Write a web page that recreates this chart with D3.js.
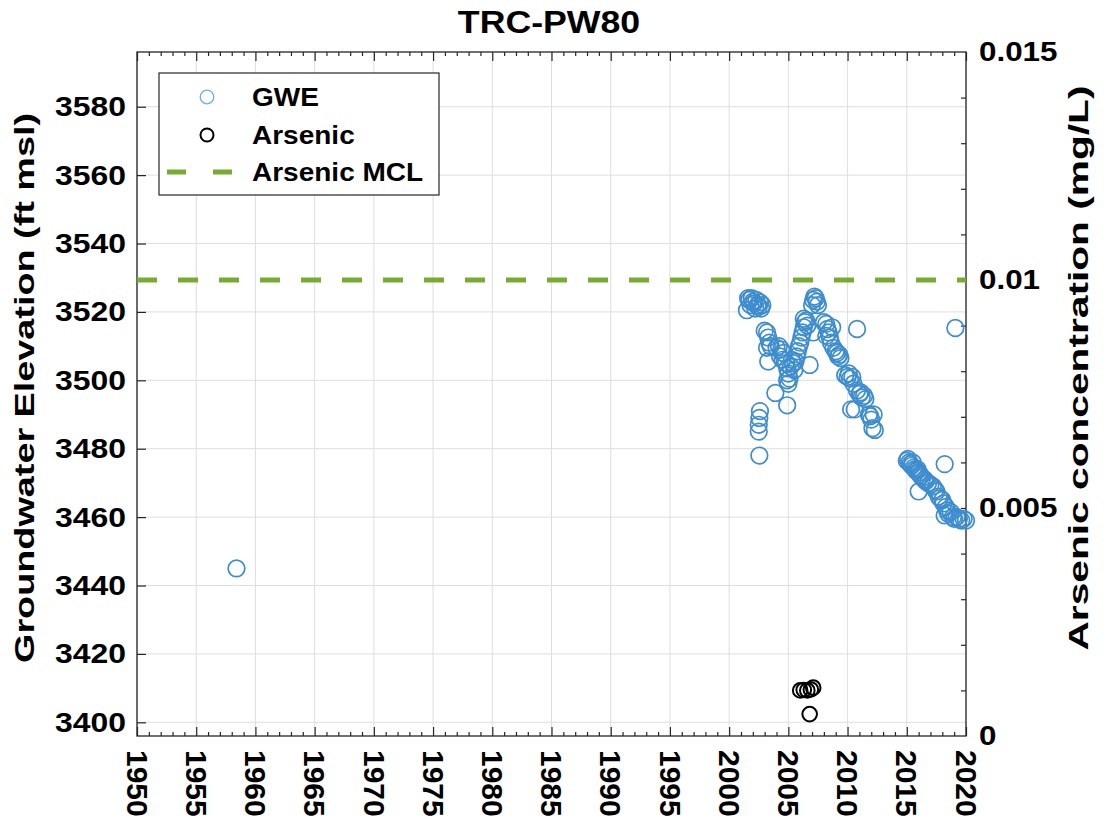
<!DOCTYPE html>
<html>
<head>
<meta charset="utf-8">
<script src="https://cdn.jsdelivr.net/npm/d3@7"></script>
<style>
  body { margin: 0; background: #fff; }
  text { font-family: "Liberation Sans", Arial, sans-serif; font-weight: bold; fill: #000; }
</style>
</head>
<body>
<script>
// well TRC-PW80 : groundwater elevation + arsenic samples

var gweYears = [
    1958.4,
    2001.5, 2001.6, 2001.7, 2001.8, 2001.9, 2002.0, 2002.1, 2002.2, 2002.3, 2002.4, 2002.5, 2002.6, 2002.7, 2002.8,
    2002.6, 2002.55, 2002.5, 2002.5, 2002.55,
    2003.0, 2003.2, 2003.3, 2003.4, 2003.2, 2003.5, 2003.3, 2003.9,
    2004.0, 2004.2, 2004.4, 2004.6, 2004.3, 2004.5, 2004.8, 2004.9, 2005.0, 2005.1, 2004.9, 2005.0, 2005.2, 2005.3, 2005.4, 2005.5, 2004.9,
    2005.6, 2005.7, 2005.8, 2005.9, 2006.0, 2006.1, 2006.2, 2006.3, 2006.4, 2006.5, 2006.6, 2006.3, 2006.8,
    2007.0, 2007.1, 2007.2, 2007.3, 2007.4, 2007.5, 2007.1,
    2008.0, 2008.2, 2008.3, 2008.4, 2008.5, 2008.6, 2008.2, 2008.8, 2009.0, 2009.1, 2009.2, 2009.3, 2009.4, 2008.7,
    2009.8, 2010.0, 2010.1, 2010.2, 2010.4, 2010.5, 2010.3, 2010.6, 2010.8,
    2010.8, 2011.0, 2011.1, 2011.2, 2011.4, 2011.5,
    2011.8, 2011.9, 2012.0, 2012.2, 2012.1, 2012.3,
    2015.0, 2015.1, 2015.2, 2015.3, 2015.4, 2015.5, 2015.6, 2015.7, 2015.8, 2015.9, 2016.0, 2016.1, 2016.2, 2016.3, 2016.0,
    2016.5, 2016.6, 2016.8, 2017.0, 2017.2, 2017.4, 2017.5, 2017.7, 2017.8, 2018.0, 2018.1, 2018.2, 2018.3, 2018.2,
    2018.4, 2018.5, 2018.7, 2018.9, 2019.0, 2019.1, 2019.2, 2019.4, 2019.6, 2019.8, 2020.0
];
var gweValues = [
    3445,
    3520.5, 3524, 3523.5, 3522, 3524, 3523, 3522.5, 3521, 3523.5, 3522, 3521.5, 3522.8, 3521, 3522,
    3491, 3489, 3487, 3485, 3478,
    3514.5, 3514, 3512.5, 3511, 3509.5, 3510, 3505.5, 3496.3,
    3509.5, 3510, 3509, 3508, 3507, 3506, 3505, 3503.5, 3502, 3500.5, 3500, 3499, 3504, 3506, 3505, 3503, 3492.7,
    3505.5, 3507, 3508.5, 3510, 3511, 3512.5, 3514, 3515.5, 3517, 3517.5, 3516, 3518, 3504.5,
    3522, 3523.5, 3524.5, 3524, 3523, 3522, 3514,
    3517, 3516.5, 3515, 3514, 3512.5, 3511, 3513, 3509.5, 3508.5, 3508, 3507, 3507.5, 3506.5, 3515.5,
    3501.5, 3501, 3502, 3500.5, 3501, 3499, 3491.5, 3491.5, 3515,
    3497, 3496, 3496.5, 3495, 3495.5, 3494.5,
    3490, 3489.5, 3488.5, 3490, 3486, 3485.5,
    3476.5, 3477, 3476, 3475.5, 3475, 3476, 3474.5, 3474, 3473.5, 3474, 3473, 3472.5, 3472, 3471.5, 3467.5,
    3471, 3470.5, 3470, 3469.5, 3469, 3468, 3467.5, 3466, 3465.5, 3465, 3464, 3475.5, 3463, 3460.5,
    3462, 3461, 3461.5, 3460, 3459.5, 3515.3, 3460, 3459.5, 3459, 3459.5, 3459
];

var arsenicYears = [2006.0, 2006.3, 2006.6, 2006.8, 2006.9, 2007.1];
var arsenicValues = [0.00100, 0.00101, 0.00100, 0.00048, 0.00102, 0.00106];

var mcl = 0.01;

var yearTicks = d3.range(1950, 2021, 5);
var gweTicks = d3.range(3400, 3581, 20);
var arsenicTicks = [0, 0.005, 0.01, 0.015];
var legendLabels = ["GWE", "Arsenic", "Arsenic MCL"];

var margin = {top: 52, right: 154, bottom: 89, left: 137};
var width = 829,
    height = 684;

var x = d3.scaleLinear().domain([1950, 2020]).range([0, width]);
var y = d3.scaleLinear().domain([3396, 3596]).range([height, 0]);
var y2 = d3.scaleLinear().domain([0, 0.015]).range([height, 0]);

var blue = "#3d8dcf",
    green = "#77ac30",
    axisColor = "#262626";

var svg = d3.select("body").append("svg")
    .attr("width", 1120)
    .attr("height", 825);

var g = svg.append("g")
    .attr("transform", "translate(" + margin.left + "," + margin.top + ")");

// stretch text a bit, the source font renders wider than Arial
function stretch(sel, k) {
    sel.each(function() {
        var w = this.getComputedTextLength();
        d3.select(this)
            .attr("textLength", w * k)
            .attr("lengthAdjust", "spacingAndGlyphs");
    });
}

// grid
g.append("g").selectAll("line")
    .data(yearTicks)
  .enter().append("line")
    .attr("x1", d => x(d)).attr("x2", d => x(d))
    .attr("y1", 0).attr("y2", height)
    .attr("stroke", "#dedede").attr("stroke-width", 1);

g.append("g").selectAll("line")
    .data(gweTicks)
  .enter().append("line")
    .attr("x1", 0).attr("x2", width)
    .attr("y1", d => y(d)).attr("y2", d => y(d))
    .attr("stroke", "#dedede").attr("stroke-width", 1);

// box
g.append("rect")
    .attr("width", width).attr("height", height)
    .attr("fill", "none")
    .attr("stroke", axisColor).attr("stroke-width", 1.3);

// minor year ticks, bottom + top
var minorYears = d3.range(1950, 2021, 1).filter(d => d % 5 != 0);
g.append("g").attr("transform", "translate(0," + height + ")")
    .call(d3.axisBottom(x).tickValues(minorYears).tickSizeInner(-4).tickSizeOuter(0).tickFormat(""));
g.append("g")
    .call(d3.axisTop(x).tickValues(minorYears).tickSizeInner(-4).tickSizeOuter(0).tickFormat(""));
g.append("g")
    .call(d3.axisTop(x).tickValues(yearTicks).tickSizeInner(-9).tickSizeOuter(0).tickFormat(""));

var xAxis = g.append("g")
    .attr("transform", "translate(0," + height + ")")
    .call(d3.axisBottom(x).tickValues(yearTicks).tickSizeInner(-9).tickSizeOuter(0).tickFormat(d3.format("d")));

xAxis.selectAll("text")
    .attr("x", 14)
    .attr("y", 0)
    .attr("dy", "0.36em")
    .attr("transform", "rotate(90)")
    .style("text-anchor", "start")
    .style("font-size", "30px");

// left axis
var yAxis = g.append("g")
    .call(d3.axisLeft(y).tickValues(gweTicks).tickSizeInner(-9).tickSizeOuter(0).tickPadding(11).tickFormat(d3.format("d")));
yAxis.selectAll("text").style("font-size", "28px");

// right axis: minor ticks every 0.001, labels on the main ones
g.append("g")
    .attr("transform", "translate(" + width + ",0)")
    .call(d3.axisLeft(y2).tickValues(d3.range(1, 15).map(d => d / 1000)).tickSizeInner(5).tickSizeOuter(0).tickFormat(""));

var y2Axis = g.append("g")
    .attr("transform", "translate(" + width + ",0)")
    .call(d3.axisRight(y2).tickValues(arsenicTicks).tickSize(0).tickPadding(13).tickFormat(d => d === 0 ? "0" : String(d)));
y2Axis.selectAll("text").style("font-size", "28px");

svg.selectAll(".domain").remove();
svg.selectAll(".tick line").attr("stroke", axisColor).attr("stroke-width", 1.2);

// MCL
g.append("line")
    .attr("x1", 0).attr("x2", width)
    .attr("y1", y2(mcl)).attr("y2", y2(mcl))
    .attr("stroke", green)
    .attr("stroke-width", 5)
    .attr("stroke-dasharray", "20 21");

// GWE
g.append("g").selectAll("circle")
    .data(gweYears)
  .enter().append("circle")
    .attr("cx", d => x(d))
    .attr("cy", (d, i) => y(gweValues[i]))
    .attr("r", 8.3)
    .attr("fill", "none")
    .attr("stroke", blue)
    .attr("stroke-width", 1.7);

// Arsenic
g.append("g").selectAll("circle")
    .data(arsenicYears)
  .enter().append("circle")
    .attr("cx", d => x(d))
    .attr("cy", (d, i) => y2(arsenicValues[i]))
    .attr("r", 7.3)
    .attr("fill", "none")
    .attr("stroke", "#000")
    .attr("stroke-width", 2);

// legend
var legend = g.append("g").attr("transform", "translate(22,21)");
legend.append("rect")
    .attr("width", 280).attr("height", 122)
    .attr("fill", "#fff")
    .attr("stroke", axisColor).attr("stroke-width", 1.2);

var rows = legend.selectAll(".row")
    .data(legendLabels)
  .enter().append("g")
    .attr("class", "row")
    .attr("transform", (d, i) => "translate(0," + [24, 62, 99][i] + ")");

rows.filter((d, i) => i == 0).append("circle")
    .attr("cx", 48).attr("r", 6.8)
    .attr("fill", "none").attr("stroke", "#6fb2d8").attr("stroke-width", 1.3);
rows.filter((d, i) => i == 1).append("circle")
    .attr("cx", 48).attr("r", 6.5)
    .attr("fill", "none").attr("stroke", "#000").attr("stroke-width", 2);
rows.filter((d, i) => i == 2).append("line")
    .attr("x1", 8).attr("x2", 93)
    .attr("stroke", green).attr("stroke-width", 5)
    .attr("stroke-dasharray", "19 27");

var legendText = rows.append("text")
    .attr("x", 93)
    .attr("dy", "0.36em")
    .style("font-size", "25px")
    .text(d => d);

// title + axis labels
var title = svg.append("text")
    .attr("x", 549)
    .attr("y", 33)
    .attr("text-anchor", "middle")
    .style("font-size", "31px")
    .text("TRC-PW80");

svg.append("text")
    .attr("transform", "translate(34,388) rotate(-90)")
    .attr("text-anchor", "middle")
    .style("font-size", "28px")
    .attr("textLength", 550)
    .attr("lengthAdjust", "spacingAndGlyphs")
    .text("Groundwater Elevation (ft msl)");

svg.append("text")
    .attr("transform", "translate(1088,368) rotate(-90)")
    .attr("text-anchor", "middle")
    .style("font-size", "28px")
    .attr("textLength", 565)
    .attr("lengthAdjust", "spacingAndGlyphs")
    .text("Arsenic concentration (mg/L)");

stretch(title, 1.15);
stretch(yAxis.selectAll("text"), 1.14);
stretch(y2Axis.selectAll("text"), 1.12);
stretch(legendText, 1.12);
</script>
</body>
</html>
